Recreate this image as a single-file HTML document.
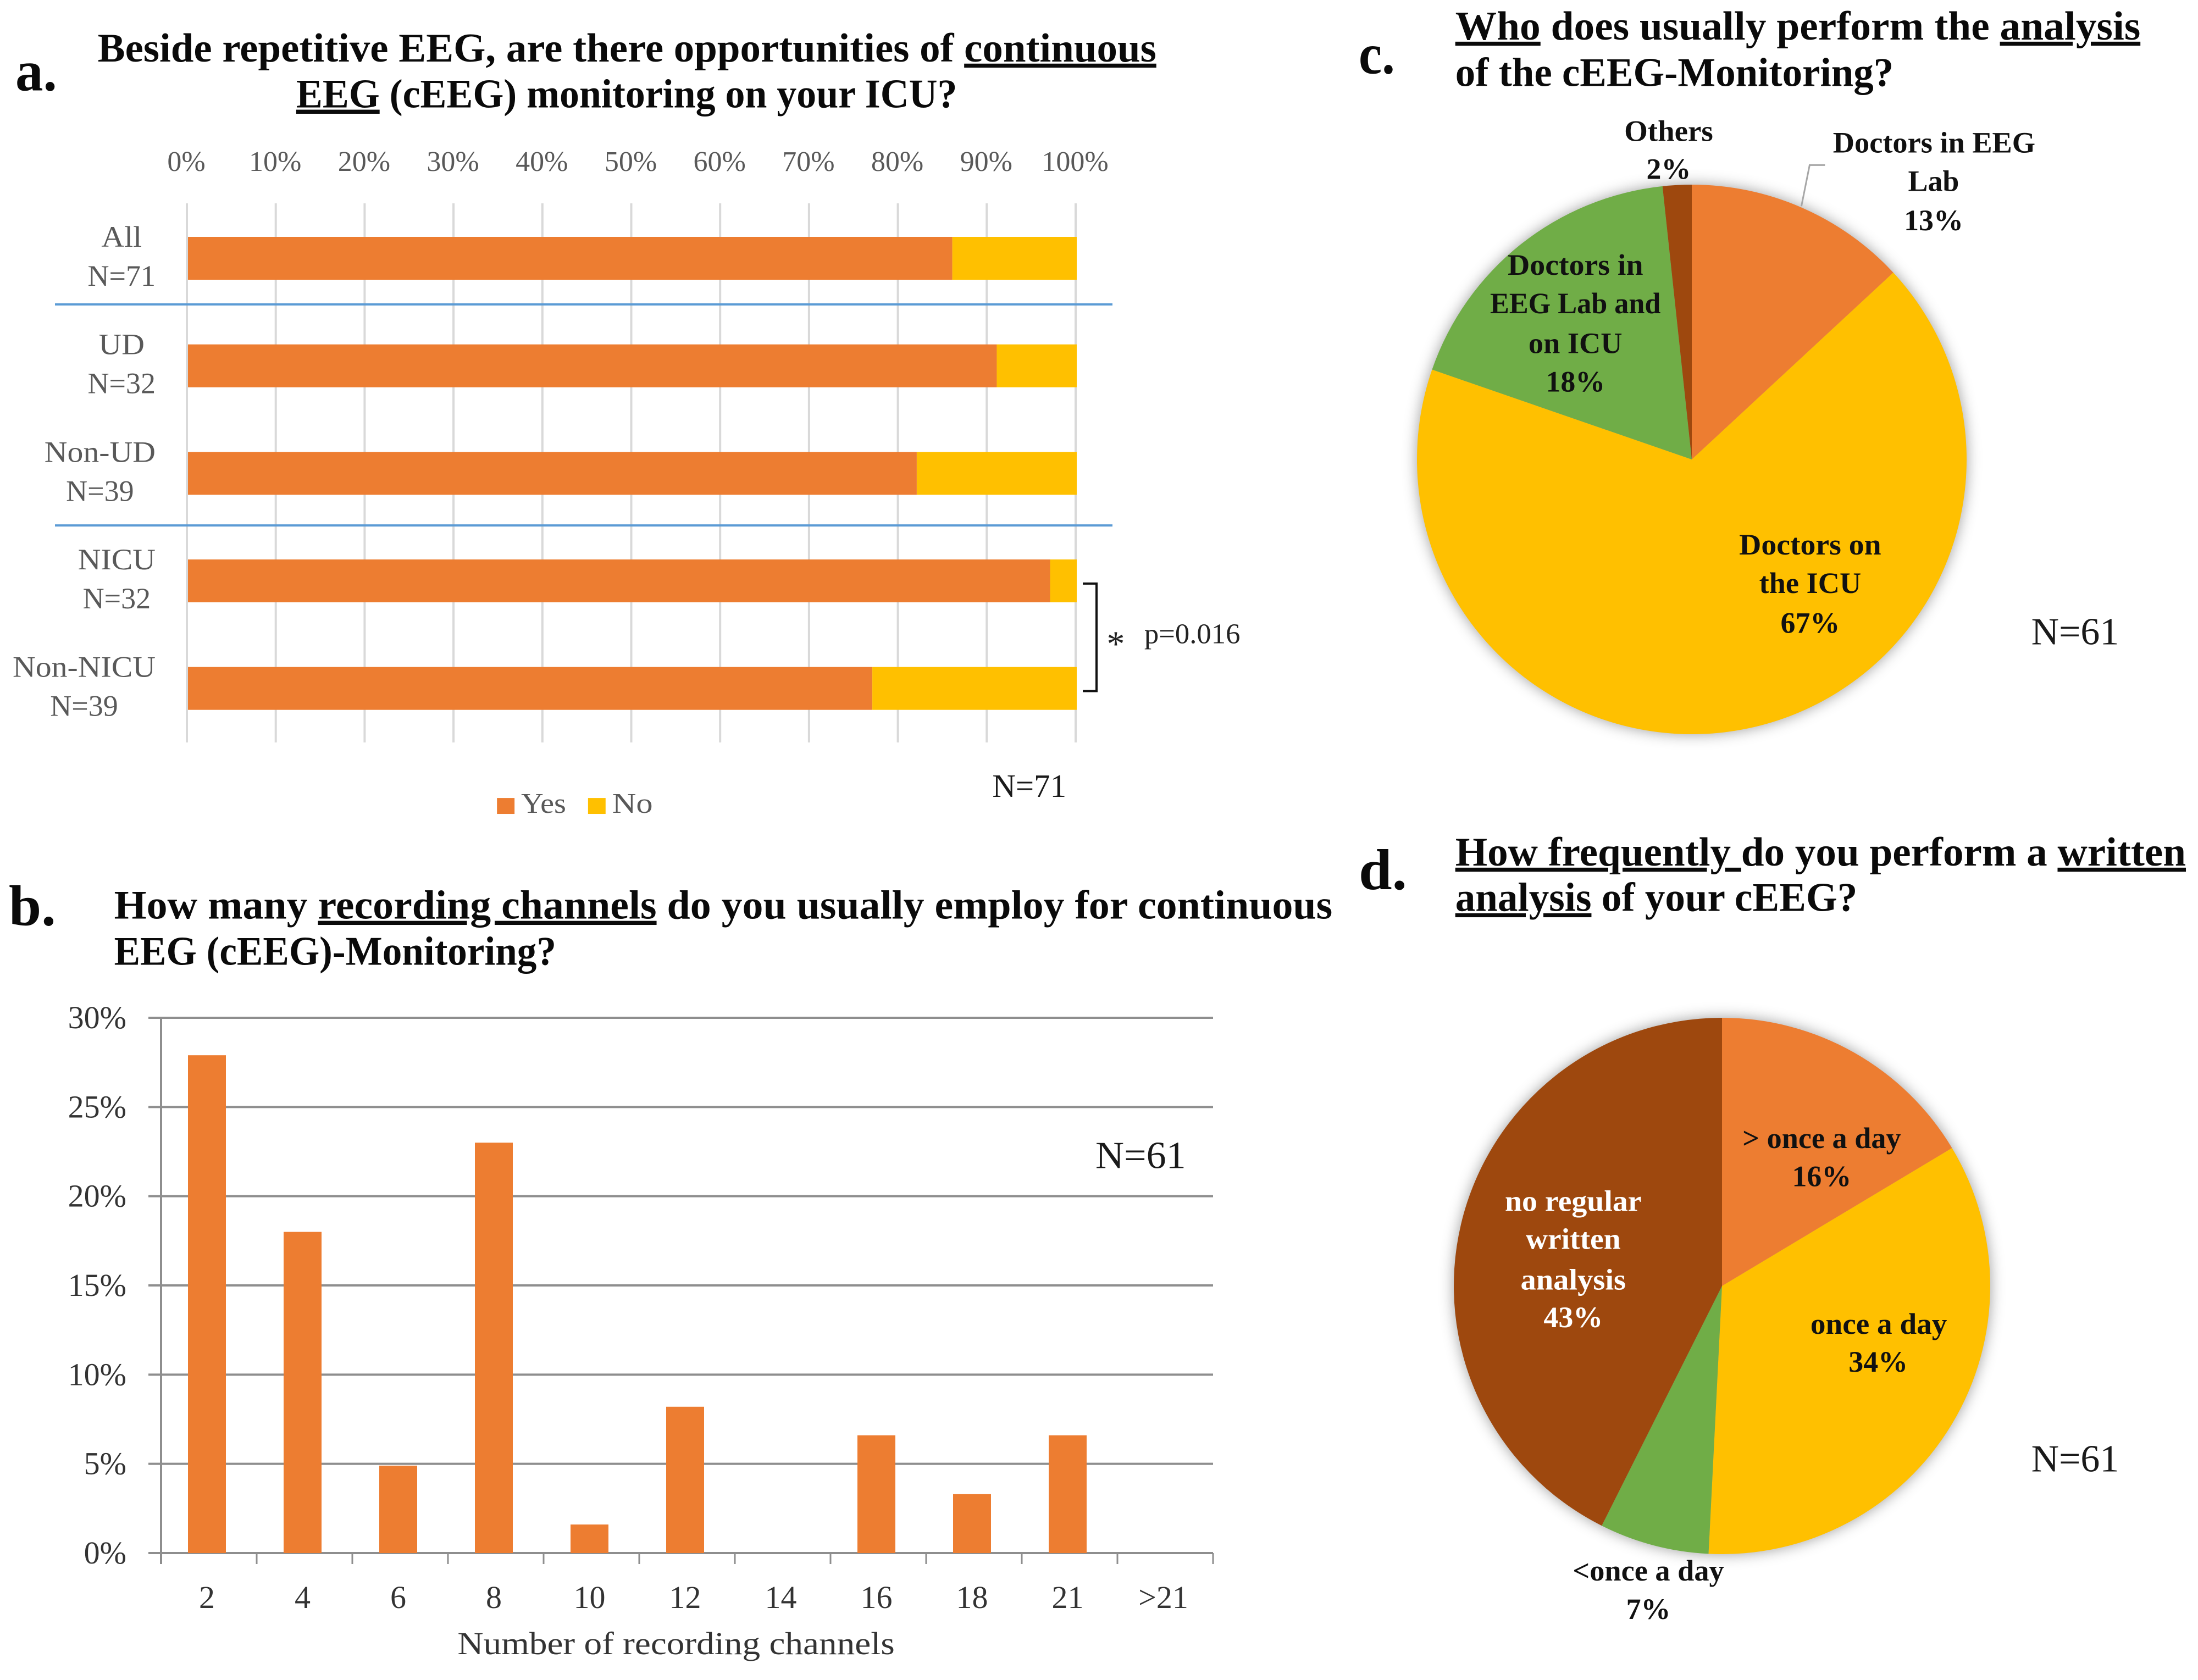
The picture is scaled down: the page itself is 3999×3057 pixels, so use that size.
<!DOCTYPE html>
<html lang="en">
<head>
<meta charset="utf-8">
<title>cEEG survey charts</title>
<style>
html,body{margin:0;padding:0;background:#fff;}
body{width:3999px;height:3057px;overflow:hidden;}
svg{display:block;}
text{font-family:"Liberation Serif",serif;}
.title{font-size:74px;font-weight:bold;fill:#0a0a0a;}
.panel{font-size:105px;font-weight:bold;fill:#0a0a0a;}
.pl{font-size:54px;font-weight:bold;fill:#111;text-anchor:middle;}
.nn{font-size:70px;fill:#1a1a1a;}
.ul{text-decoration:underline;}
.pie{filter:drop-shadow(0 0 13px rgba(0,0,0,.38));}
</style>
</head>
<body>
<svg id="figure" xmlns="http://www.w3.org/2000/svg" width="3999" height="3057" viewBox="0 0 3999 3057">
  <rect width="3999" height="3057" fill="#fff"/>
  <g transform="scale(0.998)">

  <!-- Panel a -->
  <text class="panel" x="28" y="165" textLength="76" lengthAdjust="spacingAndGlyphs">a.</text>
  <text class="title" x="178" y="112" textLength="1930" lengthAdjust="spacingAndGlyphs">Beside repetitive EEG, are there opportunities of <tspan class="ul">continuous</tspan></text>
  <text class="title" x="540" y="196" textLength="1205" lengthAdjust="spacingAndGlyphs"><tspan class="ul">EEG</tspan> (cEEG) monitoring on your ICU?</text>
  <g id="chartA" transform="scale(1.002004)"></g>
  <path d="M1974 1064H1999V1260H1974" fill="none" stroke="#111" stroke-width="4"/>
  <text x="2034" y="1196" font-size="66" fill="#222" text-anchor="middle">*</text>
  <text x="2086" y="1173" font-size="52" fill="#222" textLength="175" lengthAdjust="spacingAndGlyphs">p=0.016</text>
  <text class="nn" x="1809" y="1453" style="font-size:59px" textLength="135" lengthAdjust="spacingAndGlyphs">N=71</text>
  <rect x="906" y="1455" width="32" height="29" fill="#ED7D31"/>
  <text x="950" y="1482" font-size="52" fill="#595959" textLength="82" lengthAdjust="spacingAndGlyphs">Yes</text>
  <rect x="1072" y="1455" width="32" height="29" fill="#FFC000"/>
  <text x="1116" y="1482" font-size="52" fill="#595959" textLength="74" lengthAdjust="spacingAndGlyphs">No</text>

  <!-- Panel b -->
  <text class="panel" x="16" y="1687" textLength="86" lengthAdjust="spacingAndGlyphs">b.</text>
  <text class="title" x="208" y="1675" textLength="2221" lengthAdjust="spacingAndGlyphs">How many <tspan class="ul">recording channels</tspan> do you usually employ for continuous</text>
  <text class="title" x="208" y="1759" textLength="806" lengthAdjust="spacingAndGlyphs">EEG (cEEG)-Monitoring?</text>
  <g id="chartB" transform="scale(1.002004)"></g>
  <text x="834" y="3016" font-size="58" fill="#333" textLength="797" lengthAdjust="spacingAndGlyphs">Number of recording channels</text>
  <text class="nn" x="1997" y="2130" textLength="165" lengthAdjust="spacingAndGlyphs">N=61</text>

  <!-- Panel c -->
  <g transform="translate(5 0)">
    <text class="panel" x="2472" y="134" textLength="66" lengthAdjust="spacingAndGlyphs">c.</text>
    <text class="title" x="2648" y="72" textLength="1249" lengthAdjust="spacingAndGlyphs"><tspan class="ul">Who</tspan> does usually perform the <tspan class="ul">analysis</tspan></text>
    <text class="title" x="2648" y="157" textLength="799" lengthAdjust="spacingAndGlyphs">of the cEEG-Monitoring?</text>
  </g>
  <g id="chartC" class="pie" transform="scale(1.002004)"></g>
  <g transform="translate(5 0)">
    <path d="M3279 376L3294 301H3322" fill="none" stroke="#a6a6a6" stroke-width="3"/>
    <text class="pl" x="3037" y="257" textLength="162" lengthAdjust="spacingAndGlyphs">Others</text>
    <text class="pl" x="3037" y="326">2%</text>
    <text class="pl" x="3521" y="278" textLength="369" lengthAdjust="spacingAndGlyphs">Doctors in EEG</text>
    <text class="pl" x="3520" y="348">Lab</text>
    <text class="pl" x="3520" y="420">13%</text>
    <text class="pl" x="2867" y="501" textLength="247" lengthAdjust="spacingAndGlyphs">Doctors in</text>
    <text class="pl" x="2867" y="571" textLength="311" lengthAdjust="spacingAndGlyphs">EEG Lab and</text>
    <text class="pl" x="2867" y="644" textLength="171" lengthAdjust="spacingAndGlyphs">on ICU</text>
    <text class="pl" x="2867" y="714">18%</text>
    <text class="pl" x="3295" y="1011" textLength="259" lengthAdjust="spacingAndGlyphs">Doctors on</text>
    <text class="pl" x="3295" y="1081" textLength="186" lengthAdjust="spacingAndGlyphs">the ICU</text>
    <text class="pl" x="3295" y="1154">67%</text>
    <text class="nn" x="3698" y="1175" textLength="160" lengthAdjust="spacingAndGlyphs">N=61</text>
  </g>

  <!-- Panel d -->
  <g transform="translate(5 5)">
    <text class="panel" x="2472" y="1616" textLength="88" lengthAdjust="spacingAndGlyphs">d.</text>
    <text class="title" x="2648" y="1573" textLength="1332" lengthAdjust="spacingAndGlyphs" xml:space="preserve"><tspan class="ul">How frequently </tspan>do you perform a <tspan class="ul">written</tspan></text>
    <text class="title" x="2648" y="1656" textLength="733" lengthAdjust="spacingAndGlyphs"><tspan class="ul">analysis</tspan> of your cEEG?</text>
  </g>
  <g id="chartD" class="pie" transform="scale(1.002004)"></g>
  <g transform="translate(5 3)">
    <text class="pl" x="3316" y="2090" textLength="289" lengthAdjust="spacingAndGlyphs">&gt; once a day</text>
    <text class="pl" x="3316" y="2160">16%</text>
    <text class="pl" x="3420" y="2429" textLength="249" lengthAdjust="spacingAndGlyphs">once a day</text>
    <text class="pl" x="3419" y="2498">34%</text>
    <text class="pl" x="3000" y="2879" textLength="276" lengthAdjust="spacingAndGlyphs">&lt;once a day</text>
    <text class="pl" x="3000" y="2949">7%</text>
    <text class="pl" x="2863" y="2205" style="fill:#fff" textLength="249" lengthAdjust="spacingAndGlyphs">no regular</text>
    <text class="pl" x="2863" y="2274" style="fill:#fff" textLength="173" lengthAdjust="spacingAndGlyphs">written</text>
    <text class="pl" x="2863" y="2348" style="fill:#fff" textLength="192" lengthAdjust="spacingAndGlyphs">analysis</text>
    <text class="pl" x="2863" y="2417" style="fill:#fff">43%</text>
    <text class="nn" x="3698" y="2680" textLength="160" lengthAdjust="spacingAndGlyphs">N=61</text>
  </g>
  </g>
</svg>

<script>
const aCategories = ['All', 'UD', 'Non-UD', 'NICU', 'Non-NICU'];
const aSampleSizes = ['N=71', 'N=32', 'N=39', 'N=32', 'N=39'];
const aYes = [86, 91, 82, 97, 77];
const aNo = [14, 9, 18, 3, 23];
const aTicks = [0, 10, 20, 30, 40, 50, 60, 70, 80, 90, 100];

const bCategories = ['2', '4', '6', '8', '10', '12', '14', '16', '18', '21', '>21'];
const bValues = [27.9, 18, 4.9, 23, 1.6, 8.2, 0, 6.6, 3.3, 6.6, 0];
const bTicks = [0, 5, 10, 15, 20, 25, 30];

const cSlices = ['Doctors in EEG Lab', 'Doctors on the ICU', 'Doctors in EEG Lab and on ICU', 'Others'];
const cValues = [13.1, 67.2, 18, 1.7];

const dSlices = ['> once a day', 'once a day', '<once a day', 'no regular written analysis'];
const dValues = [16.4, 34.4, 6.6, 42.6];

const NS = 'http://www.w3.org/2000/svg';
function mk(parent, tag, attrs, content) {
  const el = document.createElementNS(NS, tag);
  for (const k in attrs) el.setAttribute(k, attrs[k]);
  if (content !== undefined) el.textContent = content;
  parent.appendChild(el);
  return el;
}

/* ---------- Chart a ---------- */
const chartA = document.getElementById('chartA');
const ax = v => 340 + (v / 100) * (1957 - 340);
const ay = i => 470 + i * 195.67;
const aBarH = 78;
const aBarOffset = 2;

aTicks.forEach(t => {
  const grid = mk(chartA, 'line', {x1: ax(t), x2: ax(t), y1: 370, y2: 1351, stroke: '#d9d9d9', 'stroke-width': 4});
  
  
  const lab = mk(chartA, 'text', {x: ax(t) - 1, y: 311, 'font-size': 52, fill: '#595959', 'text-anchor': 'middle'}, t + '%');
  
  
});

aCategories.forEach((c, i) => {
  const yes = mk(chartA, 'rect', {x: ax(0) + aBarOffset, y: ay(i) - aBarH / 2, width: ax(aYes[i]) - ax(0), height: aBarH, fill: '#ED7D31'});
  
  
  const no = mk(chartA, 'rect', {x: ax(aYes[i]) + aBarOffset, y: ay(i) - aBarH / 2, width: ax(aYes[i] + aNo[i]) - ax(aYes[i]), height: aBarH, fill: '#FFC000'});
  
  
  const name = mk(chartA, 'text', {x: 0, y: ay(i) - 21, 'font-size': 54, fill: '#595959', 'text-anchor': 'middle'}, c);
  
  
  const nLab = mk(chartA, 'text', {x: 0, y: ay(i) + 50, 'font-size': 54, fill: '#595959', 'text-anchor': 'middle'}, aSampleSizes[i]);
  
  
  const w1 = name.getComputedTextLength() * 1.07;
  const w2 = nLab.getComputedTextLength();
  name.setAttribute('textLength', w1);
  name.setAttribute('lengthAdjust', 'spacingAndGlyphs');
  const center = 283 - Math.max(w1, w2) / 2;
  name.setAttribute('x', center);
  nLab.setAttribute('x', center);
});

[[0.5, -14], [2.5, -3]].forEach(sepPos => {
  const yy = ay(sepPos[0]) + sepPos[1];
  const sep = mk(chartA, 'line', {x1: 100, x2: 2024, y1: yy, y2: yy, stroke: '#5B9BD5', 'stroke-width': 4});
  
  
});

/* ---------- Chart b ---------- */
const chartB = document.getElementById('chartB');
const bLeft = 293, bRight = 2207, bTop = 1852, bBottom = 2826;
const bBand = (bRight - bLeft) / bCategories.length;
const bx = i => bLeft + bBand * i;
const by = v => bBottom - (v / 30) * (bBottom - bTop);

bTicks.forEach(t => {
  const g = mk(chartB, 'line', {x1: bLeft - 23, x2: bRight, y1: by(t), y2: by(t), stroke: '#8e8e8e', 'stroke-width': 4});
  
  
  const l = mk(chartB, 'text', {x: 230, y: by(t) + 19, 'font-size': 58, fill: '#333', 'text-anchor': 'end'}, t + '%');
  
  
});

const bAxis = mk(chartB, 'line', {x1: bLeft, x2: bLeft, y1: bTop, y2: bBottom + 20, stroke: '#8e8e8e', 'stroke-width': 4});



for (let i = 1; i <= bCategories.length; i++) {
  const tick = mk(chartB, 'line', {x1: bx(i), x2: bx(i), y1: bBottom, y2: bBottom + 20, stroke: '#8e8e8e', 'stroke-width': 3});
  
  
}

bCategories.forEach((c, i) => {
  const w = 69;
  const bar = mk(chartB, 'rect', {x: bx(i) + bBand / 2 - w / 2 - 3.5, y: by(bValues[i]), width: w, height: bBottom - by(bValues[i]), fill: '#ED7D31'});
  
  
  const l = mk(chartB, 'text', {x: bx(i) + bBand / 2 - 3.5, y: 2926, 'font-size': 58, fill: '#333', 'text-anchor': 'middle'}, c);
  
  
});

/* ---------- Pies ---------- */
const pieColors = ['#ED7D31', '#FFC000', '#70AD47', '#9E480E'];
function drawPie(group, values, names, cx, cy, r) {
  const total = values.reduce((a, b) => a + b, 0);
  let acc = 0;
  values.forEach((v, i) => {
    const a0 = acc / total * 2 * Math.PI;
    acc += v;
    const a1 = acc / total * 2 * Math.PI;
    const large = a1 - a0 > Math.PI ? 1 : 0;
    const d = 'M' + cx + ' ' + cy +
      'L' + (cx + r * Math.sin(a0)) + ' ' + (cy - r * Math.cos(a0)) +
      'A' + r + ' ' + r + ' 0 ' + large + ' 1 ' + (cx + r * Math.sin(a1)) + ' ' + (cy - r * Math.cos(a1)) + 'Z';
    const slice = mk(group, 'path', {d: d, fill: pieColors[i]});
    
    
    mk(slice, 'title', {}, names[i]);
  });
}
drawPie(document.getElementById('chartC'), cValues, cSlices, 3078, 836, 500);
drawPie(document.getElementById('chartD'), dValues, dSlices, 3133, 2340, 488);
</script>
</body>
</html>
